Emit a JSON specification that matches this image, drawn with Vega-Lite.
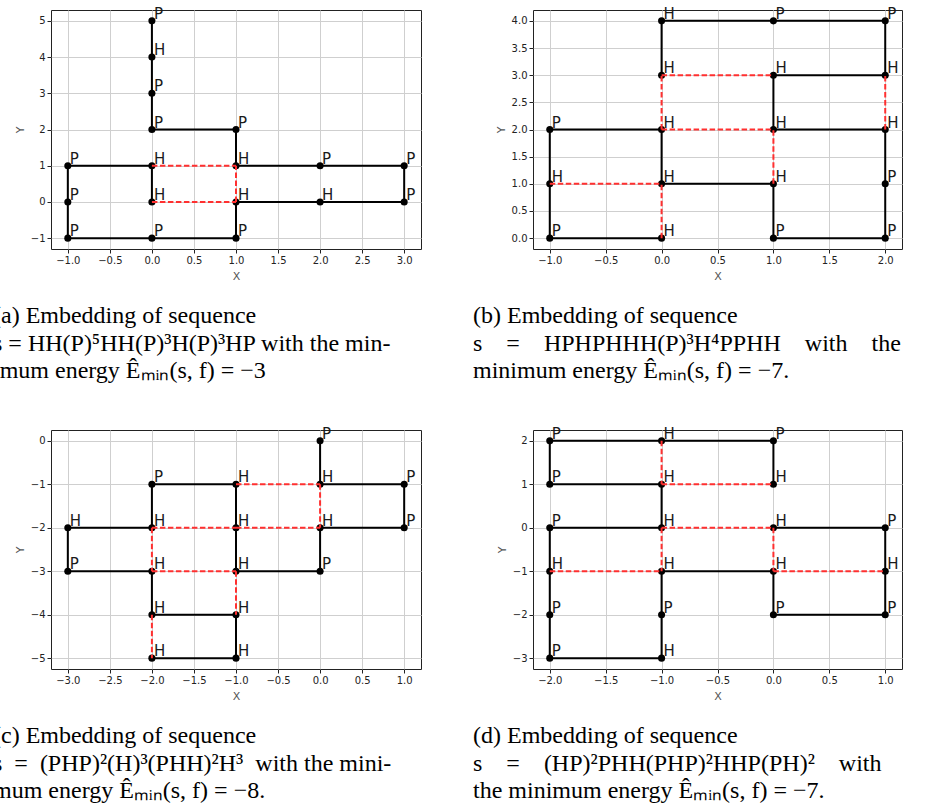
{
  "$schema": "https://vega.github.io/schema/vega-lite/v6.json",
  "padding": {"left": -8, "top": 6, "right": 0, "bottom": 0},
  "background": "white",
  "datasets": {
    "a_res": [
      {"i": 0, "x": 0, "y": 0, "t": "H"}, {"i": 1, "x": 0, "y": 1, "t": "H"}, {"i": 2, "x": -1, "y": 1, "t": "P"},
      {"i": 3, "x": -1, "y": 0, "t": "P"}, {"i": 4, "x": -1, "y": -1, "t": "P"}, {"i": 5, "x": 0, "y": -1, "t": "P"},
      {"i": 6, "x": 1, "y": -1, "t": "P"}, {"i": 7, "x": 1, "y": 0, "t": "H"}, {"i": 8, "x": 2, "y": 0, "t": "H"},
      {"i": 9, "x": 3, "y": 0, "t": "P"}, {"i": 10, "x": 3, "y": 1, "t": "P"}, {"i": 11, "x": 2, "y": 1, "t": "P"},
      {"i": 12, "x": 1, "y": 1, "t": "H"}, {"i": 13, "x": 1, "y": 2, "t": "P"}, {"i": 14, "x": 0, "y": 2, "t": "P"},
      {"i": 15, "x": 0, "y": 3, "t": "P"}, {"i": 16, "x": 0, "y": 4, "t": "H"}, {"i": 17, "x": 0, "y": 5, "t": "P"}
    ],
    "a_con": [
      {"x": 0, "y": 1, "x2": 1, "y2": 1}, {"x": 0, "y": 0, "x2": 1, "y2": 0}, {"x": 1, "y": 0, "x2": 1, "y2": 1}
    ],
    "b_res": [
      {"i": 0, "x": 0, "y": 0, "t": "H"}, {"i": 1, "x": -1, "y": 0, "t": "P"}, {"i": 2, "x": -1, "y": 1, "t": "H"},
      {"i": 3, "x": -1, "y": 2, "t": "P"}, {"i": 4, "x": 0, "y": 2, "t": "H"}, {"i": 5, "x": 0, "y": 1, "t": "H"},
      {"i": 6, "x": 1, "y": 1, "t": "H"}, {"i": 7, "x": 1, "y": 0, "t": "P"}, {"i": 8, "x": 2, "y": 0, "t": "P"},
      {"i": 9, "x": 2, "y": 1, "t": "P"}, {"i": 10, "x": 2, "y": 2, "t": "H"}, {"i": 11, "x": 1, "y": 2, "t": "H"},
      {"i": 12, "x": 1, "y": 3, "t": "H"}, {"i": 13, "x": 2, "y": 3, "t": "H"}, {"i": 14, "x": 2, "y": 4, "t": "P"},
      {"i": 15, "x": 1, "y": 4, "t": "P"}, {"i": 16, "x": 0, "y": 4, "t": "H"}, {"i": 17, "x": 0, "y": 3, "t": "H"}
    ],
    "b_con": [
      {"x": 0, "y": 0, "x2": 0, "y2": 1}, {"x": -1, "y": 1, "x2": 0, "y2": 1}, {"x": 0, "y": 2, "x2": 0, "y2": 3},
      {"x": 0, "y": 3, "x2": 1, "y2": 3}, {"x": 0, "y": 2, "x2": 1, "y2": 2}, {"x": 1, "y": 1, "x2": 1, "y2": 2},
      {"x": 2, "y": 2, "x2": 2, "y2": 3}
    ],
    "c_res": [
      {"i": 0, "x": 0, "y": 0, "t": "P"}, {"i": 1, "x": 0, "y": -1, "t": "H"}, {"i": 2, "x": 1, "y": -1, "t": "P"},
      {"i": 3, "x": 1, "y": -2, "t": "P"}, {"i": 4, "x": 0, "y": -2, "t": "H"}, {"i": 5, "x": 0, "y": -3, "t": "P"},
      {"i": 6, "x": -1, "y": -3, "t": "H"}, {"i": 7, "x": -1, "y": -2, "t": "H"}, {"i": 8, "x": -1, "y": -1, "t": "H"},
      {"i": 9, "x": -2, "y": -1, "t": "P"}, {"i": 10, "x": -2, "y": -2, "t": "H"}, {"i": 11, "x": -3, "y": -2, "t": "H"},
      {"i": 12, "x": -3, "y": -3, "t": "P"}, {"i": 13, "x": -2, "y": -3, "t": "H"}, {"i": 14, "x": -2, "y": -4, "t": "H"},
      {"i": 15, "x": -1, "y": -4, "t": "H"}, {"i": 16, "x": -1, "y": -5, "t": "H"}, {"i": 17, "x": -2, "y": -5, "t": "H"}
    ],
    "c_con": [
      {"x": -1, "y": -1, "x2": 0, "y2": -1}, {"x": 0, "y": -1, "x2": 0, "y2": -2}, {"x": -2, "y": -2, "x2": -1, "y2": -2},
      {"x": -1, "y": -2, "x2": 0, "y2": -2}, {"x": -2, "y": -2, "x2": -2, "y2": -3}, {"x": -2, "y": -3, "x2": -1, "y2": -3},
      {"x": -1, "y": -3, "x2": -1, "y2": -4}, {"x": -2, "y": -4, "x2": -2, "y2": -5}
    ],
    "d_res": [
      {"i": 0, "x": 0, "y": 1, "t": "H"}, {"i": 1, "x": 0, "y": 2, "t": "P"}, {"i": 2, "x": -1, "y": 2, "t": "H"},
      {"i": 3, "x": -2, "y": 2, "t": "P"}, {"i": 4, "x": -2, "y": 1, "t": "P"}, {"i": 5, "x": -1, "y": 1, "t": "H"},
      {"i": 6, "x": -1, "y": 0, "t": "H"}, {"i": 7, "x": -2, "y": 0, "t": "P"}, {"i": 8, "x": -2, "y": -1, "t": "H"},
      {"i": 9, "x": -2, "y": -2, "t": "P"}, {"i": 10, "x": -2, "y": -3, "t": "P"}, {"i": 11, "x": -1, "y": -3, "t": "H"},
      {"i": 12, "x": -1, "y": -2, "t": "P"}, {"i": 13, "x": -1, "y": -1, "t": "H"}, {"i": 14, "x": 0, "y": -1, "t": "H"},
      {"i": 15, "x": 0, "y": -2, "t": "P"}, {"i": 16, "x": 1, "y": -2, "t": "P"}, {"i": 17, "x": 1, "y": -1, "t": "H"},
      {"i": 18, "x": 1, "y": 0, "t": "P"}, {"i": 19, "x": 0, "y": 0, "t": "H"}
    ],
    "d_con": [
      {"x": -1, "y": 2, "x2": -1, "y2": 1}, {"x": -1, "y": 1, "x2": 0, "y2": 1}, {"x": -1, "y": 0, "x2": 0, "y2": 0},
      {"x": -1, "y": 0, "x2": -1, "y2": -1}, {"x": 0, "y": 0, "x2": 0, "y2": -1}, {"x": -2, "y": -1, "x2": -1, "y2": -1},
      {"x": 0, "y": -1, "x2": 1, "y2": -1}
    ]
  },
  "columns": 2,
  "spacing": {"row": 181, "column": 112},
  "bounds": "flush",
  "concat": [
    {
      "width": 370, "height": 239,
      "title": {"text": ["(a) Embedding of sequence", "s = HH(P)⁵HH(P)³H(P)³HP with the min-", "imum energy Êₘᵢₙ(s, f) = −3"], "dx": -58},
      "encoding": {
        "x": {"field": "x", "type": "quantitative", "title": "X", "scale": {"domain": [-1.2, 3.2], "nice": false, "zero": false}, "axis": {"values": [-1, -0.5, 0, 0.5, 1, 1.5, 2, 2.5, 3], "format": ".1f"}},
        "y": {"field": "y", "type": "quantitative", "title": "Y", "scale": {"domain": [-1.3, 5.3], "nice": false, "zero": false}, "axis": {"values": [-1, 0, 1, 2, 3, 4, 5], "format": "d"}}
      },
      "layer": [
        {"data": {"name": "a_res"}, "mark": {"type": "line", "color": "black", "strokeWidth": 2}, "encoding": {"order": {"field": "i", "type": "quantitative"}}},
        {"data": {"name": "a_res"}, "mark": {"type": "circle", "color": "black", "size": 50, "opacity": 1}},
        {"data": {"name": "a_con"}, "mark": {"type": "rule", "color": "#ff3030", "strokeWidth": 2, "strokeDash": [5.5, 2.5]}, "encoding": {"x2": {"field": "x2"}, "y2": {"field": "y2"}}},
        {"data": {"name": "a_res"}, "mark": {"type": "text", "align": "left", "baseline": "alphabetic", "dx": 2, "dy": -2, "font": "DejaVu Sans", "fontSize": 15, "color": "#1a1a1a"}, "encoding": {"text": {"field": "t"}}}
      ]
    },
    {
      "width": 369, "height": 239,
      "title": {"text": ["(b) Embedding of sequence", "s\u2003=\u2003HPHPHHH(P)³H⁴PPHH\u2003with\u2003the", "minimum energy Êₘᵢₙ(s, f) = −7."], "dx": -60},
      "encoding": {
        "x": {"field": "x", "type": "quantitative", "title": "X", "scale": {"domain": [-1.15, 2.15], "nice": false, "zero": false}, "axis": {"values": [-1, -0.5, 0, 0.5, 1, 1.5, 2], "format": ".1f"}},
        "y": {"field": "y", "type": "quantitative", "title": "Y", "scale": {"domain": [-0.2, 4.2], "nice": false, "zero": false}, "axis": {"values": [0, 0.5, 1, 1.5, 2, 2.5, 3, 3.5, 4], "format": ".1f"}}
      },
      "layer": [
        {"data": {"name": "b_res"}, "mark": {"type": "line", "color": "black", "strokeWidth": 2}, "encoding": {"order": {"field": "i", "type": "quantitative"}}},
        {"data": {"name": "b_res"}, "mark": {"type": "circle", "color": "black", "size": 50, "opacity": 1}},
        {"data": {"name": "b_con"}, "mark": {"type": "rule", "color": "#ff3030", "strokeWidth": 2, "strokeDash": [5.5, 2.5]}, "encoding": {"x2": {"field": "x2"}, "y2": {"field": "y2"}}},
        {"data": {"name": "b_res"}, "mark": {"type": "text", "align": "left", "baseline": "alphabetic", "dx": 2, "dy": -2, "font": "DejaVu Sans", "fontSize": 15, "color": "#1a1a1a"}, "encoding": {"text": {"field": "t"}}}
      ]
    },
    {
      "width": 370, "height": 239,
      "title": {"text": ["(c) Embedding of sequence", "s\u2002=\u2002(PHP)²(H)³(PHH)²H³\u2002with the mini-", "mum energy Êₘᵢₙ(s, f) = −8."], "dx": -58},
      "encoding": {
        "x": {"field": "x", "type": "quantitative", "title": "X", "scale": {"domain": [-3.2, 1.2], "nice": false, "zero": false}, "axis": {"values": [-3, -2.5, -2, -1.5, -1, -0.5, 0, 0.5, 1], "format": ".1f"}},
        "y": {"field": "y", "type": "quantitative", "title": "Y", "scale": {"domain": [-5.25, 0.25], "nice": false, "zero": false}, "axis": {"values": [-5, -4, -3, -2, -1, 0], "format": "d"}}
      },
      "layer": [
        {"data": {"name": "c_res"}, "mark": {"type": "line", "color": "black", "strokeWidth": 2}, "encoding": {"order": {"field": "i", "type": "quantitative"}}},
        {"data": {"name": "c_res"}, "mark": {"type": "circle", "color": "black", "size": 50, "opacity": 1}},
        {"data": {"name": "c_con"}, "mark": {"type": "rule", "color": "#ff3030", "strokeWidth": 2, "strokeDash": [5.5, 2.5]}, "encoding": {"x2": {"field": "x2"}, "y2": {"field": "y2"}}},
        {"data": {"name": "c_res"}, "mark": {"type": "text", "align": "left", "baseline": "alphabetic", "dx": 2, "dy": -2, "font": "DejaVu Sans", "fontSize": 15, "color": "#1a1a1a"}, "encoding": {"text": {"field": "t"}}}
      ]
    },
    {
      "width": 369, "height": 239,
      "title": {"text": ["(d) Embedding of sequence", "s\u2003=\u2003(HP)²PHH(PHP)²HHP(PH)²\u2003with", "the minimum energy Êₘᵢₙ(s, f) = −7."], "dx": -60},
      "encoding": {
        "x": {"field": "x", "type": "quantitative", "title": "X", "scale": {"domain": [-2.15, 1.15], "nice": false, "zero": false}, "axis": {"values": [-2, -1.5, -1, -0.5, 0, 0.5, 1], "format": ".1f"}},
        "y": {"field": "y", "type": "quantitative", "title": "Y", "scale": {"domain": [-3.25, 2.25], "nice": false, "zero": false}, "axis": {"values": [-3, -2, -1, 0, 1, 2], "format": "d"}}
      },
      "layer": [
        {"data": {"name": "d_res"}, "mark": {"type": "line", "color": "black", "strokeWidth": 2}, "encoding": {"order": {"field": "i", "type": "quantitative"}}},
        {"data": {"name": "d_res"}, "mark": {"type": "circle", "color": "black", "size": 50, "opacity": 1}},
        {"data": {"name": "d_con"}, "mark": {"type": "rule", "color": "#ff3030", "strokeWidth": 2, "strokeDash": [5.5, 2.5]}, "encoding": {"x2": {"field": "x2"}, "y2": {"field": "y2"}}},
        {"data": {"name": "d_res"}, "mark": {"type": "text", "align": "left", "baseline": "alphabetic", "dx": 2, "dy": -2, "font": "DejaVu Sans", "fontSize": 15, "color": "#1a1a1a"}, "encoding": {"text": {"field": "t"}}}
      ]
    }
  ],
  "config": {
    "view": {"stroke": "#222", "strokeWidth": 1},
    "axis": {
      "grid": true, "gridColor": "#cfcfcf", "gridWidth": 1, "domain": false,
      "ticks": true, "tickColor": "#222", "tickSize": 4, "tickWidth": 1,
      "labelFont": "DejaVu Sans", "labelFontSize": 10, "labelColor": "#222", "labelPadding": 2,
      "titleFont": "DejaVu Sans", "titleFontSize": 11, "titleFontWeight": "normal", "titleColor": "#555", "titlePadding": 5
    },
    "title": {
      "font": "Liberation Serif", "fontSize": 24, "fontWeight": "normal", "color": "black",
      "anchor": "start", "frame": "group", "orient": "bottom", "lineHeight": 27.5, "offset": 23
    }
  }
}
